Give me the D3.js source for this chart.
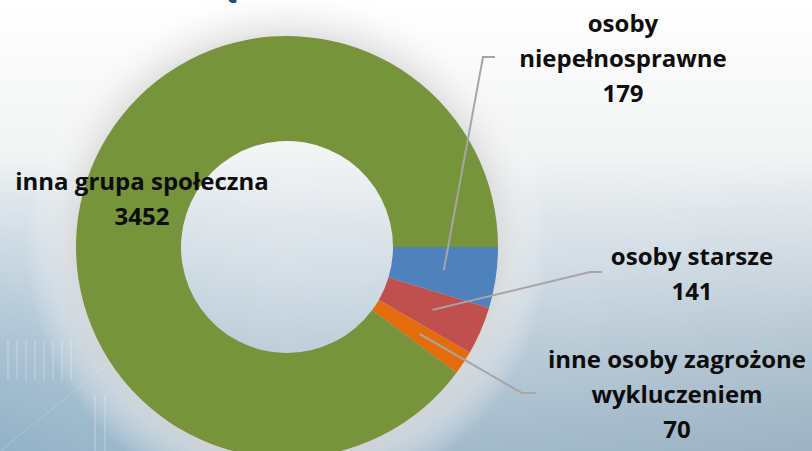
<!DOCTYPE html>
<html>
<head>
<meta charset="utf-8">
<script src="https://d3js.org/d3.v7.min.js"></script>
<style>
    html, body { margin: 0; padding: 0; background: #fff; }
    svg { display: block; }
    .lbl { font-family: "Open Sans", sans-serif; font-weight: bold; font-size: 24px; fill: #0d0d0d; }
</style>
</head>
<body>
<script>
// data
var categories = ["osoby niepełnosprawne", "osoby starsze", "inne osoby zagrożone wykluczeniem", "inna grupa społeczna"];
var values = [179, 141, 70, 3452];
var colors = ["#4f81bd", "#c0504d", "#e46c0a", "#77933c"];
// label lines as they are broken in the picture
var labelLines = [
    ["osoby", "niepełnosprawne", "179"],
    ["osoby starsze", "141"],
    ["inne osoby zagrożone", "wykluczeniem", "70"],
    ["inna grupa społeczna", "3452"]
];

var width = 812, height = 451;
var cx = 287, cy = 247, outerR = 211, innerR = 106;

var svg = d3.select("body").append("svg")
    .attr("width", width)
    .attr("height", height);

// background, a pale tech picture in the original
var defs = svg.append("defs");
var bg = defs.append("linearGradient").attr("id", "bg")
    .attr("x1", 0).attr("y1", 0).attr("x2", 0).attr("y2", 1);
bg.append("stop").attr("offset", "0%").attr("stop-color", "#ffffff");
bg.append("stop").attr("offset", "35%").attr("stop-color", "#f1f3f4");
bg.append("stop").attr("offset", "62%").attr("stop-color", "#d8e1e8");
bg.append("stop").attr("offset", "100%").attr("stop-color", "#a9bfcf");

var halo = defs.append("radialGradient").attr("id", "halo")
    .attr("cx", 0.5).attr("cy", 0.5).attr("r", 0.5);
halo.append("stop").attr("offset", "70%").attr("stop-color", "#d9d9d9").attr("stop-opacity", 0);
halo.append("stop").attr("offset", "80%").attr("stop-color", "#d9d9d9").attr("stop-opacity", 0.8);
halo.append("stop").attr("offset", "100%").attr("stop-color", "#ffffff").attr("stop-opacity", 0);

var side = defs.append("linearGradient").attr("id", "side")
    .attr("x1", 0).attr("y1", 0).attr("x2", 1).attr("y2", 0);
side.append("stop").attr("offset", "0%").attr("stop-color", "#86abc4").attr("stop-opacity", 0.65);
side.append("stop").attr("offset", "35%").attr("stop-color", "#8fb1c8").attr("stop-opacity", 0.15);
side.append("stop").attr("offset", "100%").attr("stop-color", "#8ea5b5").attr("stop-opacity", 0.45);

var fade = defs.append("linearGradient").attr("id", "fade")
    .attr("x1", 0).attr("y1", 0).attr("x2", 0).attr("y2", 1);
fade.append("stop").attr("offset", "35%").attr("stop-color", "#000");
fade.append("stop").attr("offset", "100%").attr("stop-color", "#fff");
defs.append("mask").attr("id", "fadeMask")
    .append("rect").attr("width", width).attr("height", height).attr("fill", "url(#fade)");

svg.append("rect").attr("width", width).attr("height", height).attr("fill", "url(#bg)");
svg.append("rect").attr("width", width).attr("height", height)
    .attr("fill", "url(#side)").attr("mask", "url(#fadeMask)");
svg.append("circle").attr("cx", cx).attr("cy", cy).attr("r", outerR + 50).attr("fill", "url(#halo)");

// faint streaks of the background picture
var streaks = svg.append("g").attr("stroke", "#ffffff").attr("stroke-opacity", 0.35);
d3.range(8).forEach(function(i) {
    streaks.append("line")
        .attr("x1", 8 + i * 9).attr("x2", 8 + i * 9)
        .attr("y1", 340).attr("y2", 380);
});
streaks.append("line").attr("x1", 95).attr("y1", 395).attr("x2", 95).attr("y2", 451);
streaks.append("line").attr("x1", 105).attr("y1", 395).attr("x2", 105).attr("y2", 451);
streaks.append("line").attr("x1", 0).attr("y1", 451).attr("x2", 150).attr("y2", 330).attr("stroke-opacity", 0.2);

// title is cut off above the picture, only a bit of it shows
svg.append("text")
    .attr("x", 216).attr("y", -6)
    .attr("font-family", "Open Sans, sans-serif")
    .attr("font-weight", "bold")
    .attr("font-size", 40)
    .attr("fill", "#1f4e79")
    .text("ę");

var pie = d3.pie().sort(null)
    .startAngle(Math.PI / 2)
    .endAngle(Math.PI / 2 + 2 * Math.PI);
var arcs = pie(values);

var arc = d3.arc().innerRadius(innerR).outerRadius(outerR);

var g = svg.append("g").attr("transform", "translate(" + cx + "," + cy + ")");

g.selectAll("path")
    .data(arcs)
    .enter().append("path")
    .attr("d", arc)
    .attr("fill", function(d, i) { return colors[i]; });

// label placement (centre x, first baseline) and leader elbows, relative to the chart centre
var labelPos = [
    { x: 336, y: -215, elbow: [[196, -190], [208, -190]] },
    { x: 405, y: 18, elbow: [[303, 25], [315, 25]] },
    { x: 390, y: 121, elbow: [[235, 146], [249, 146]] },
    { x: -145, y: -57, elbow: null }
];
var lineGap = 35;

var leader = d3.line();
arcs.forEach(function(d, i) {
    var p = labelPos[i];
    if (p.elbow) {
        var c = arc.centroid(d);
        g.append("path")
            .attr("d", leader([c].concat(p.elbow)))
            .attr("fill", "none")
            .attr("stroke", "#a6a6a6")
            .attr("stroke-width", 2);
    }
    var t = g.append("text")
        .attr("class", "lbl")
        .attr("text-anchor", "middle");
    labelLines[i].forEach(function(s, k) {
        t.append("tspan")
            .attr("x", p.x)
            .attr("y", p.y + k * lineGap)
            .text(s);
    });
});
</script>
</body>
</html>
